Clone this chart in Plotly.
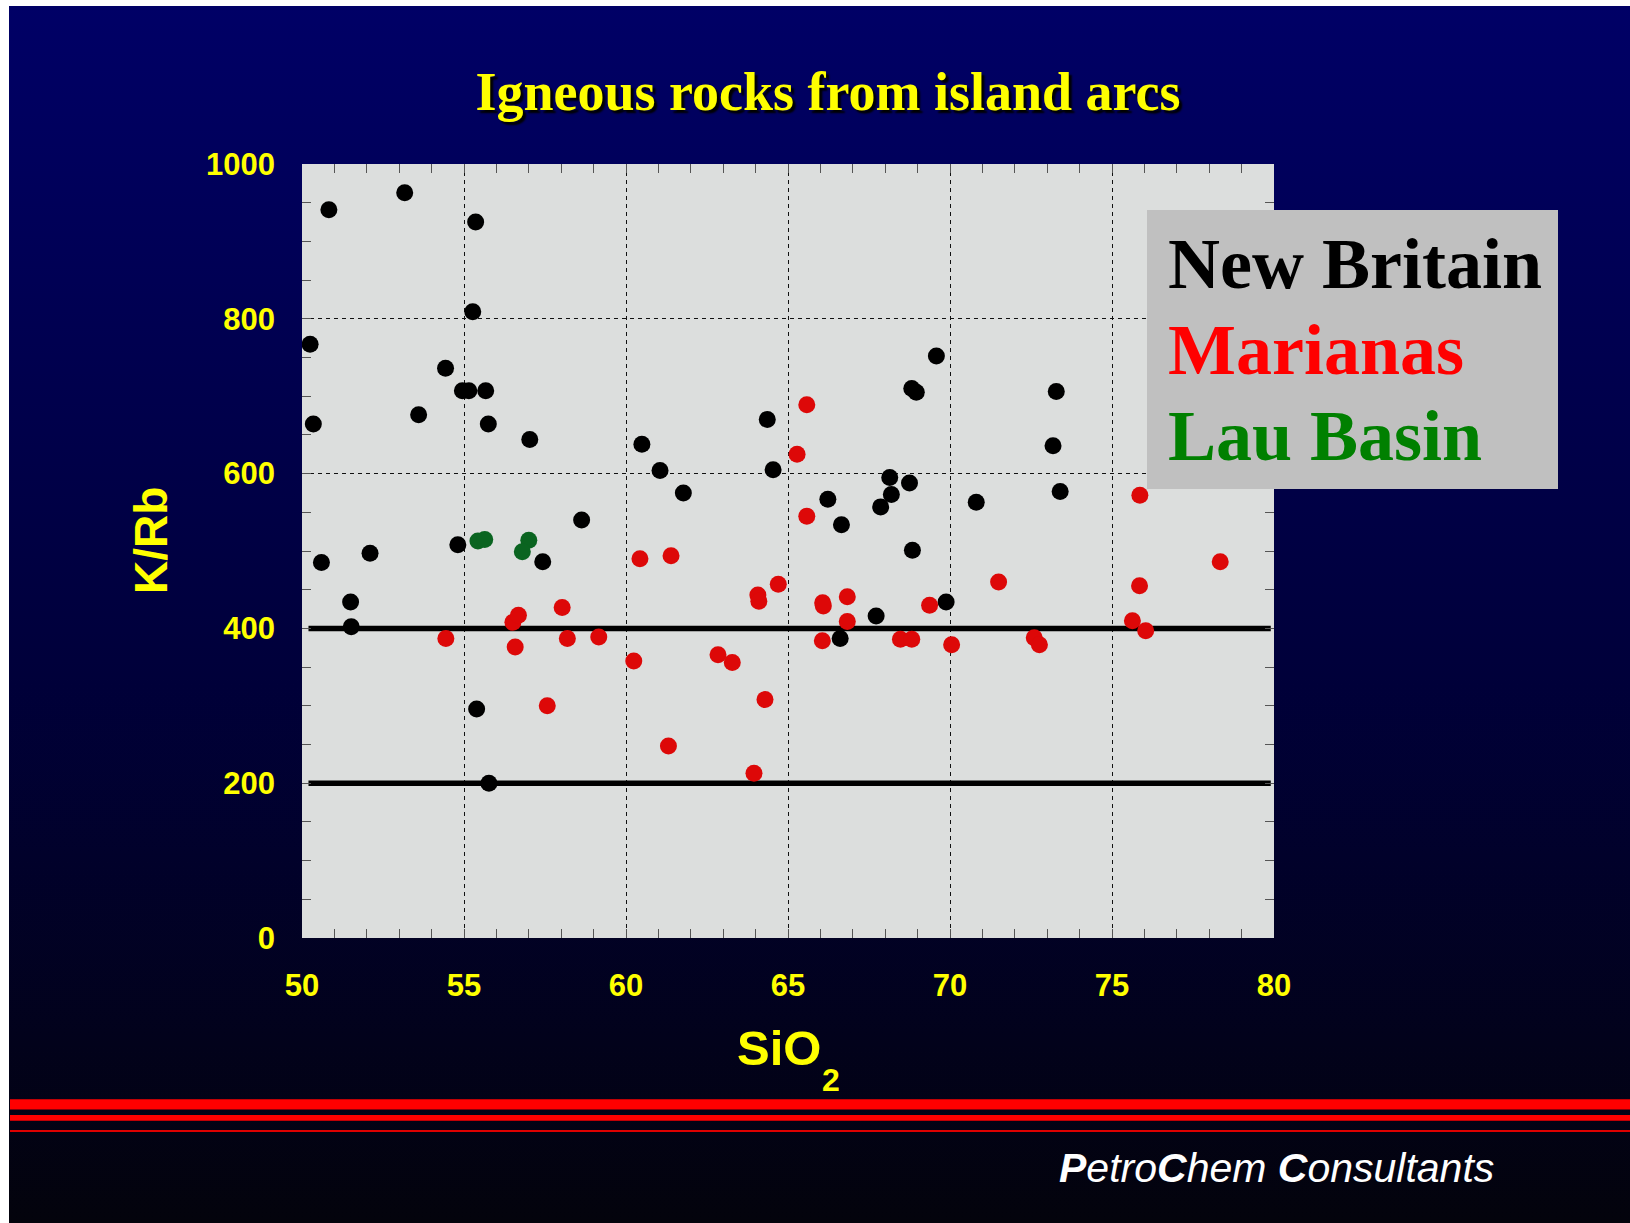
import base64
import plotly.graph_objects as go

# ---------------- data ----------------
series_names = ["New Britain", "Marianas", "Lau Basin"]
series_colors = ["#000000", "#dd0808", "#0a6420"]
legend_text_colors = ["#000000", "#ff0000", "#008000"]

nb_sio2 = [50.83, 53.17, 55.36, 55.27, 50.25, 54.43, 54.95, 55.15, 55.67, 53.60,
           50.35, 55.75, 57.03, 60.49, 61.05, 61.77, 58.63, 54.81, 50.60, 52.10,
           57.43, 51.50, 51.52, 64.36, 64.54, 55.39, 55.77, 69.58, 68.82, 68.96,
           73.28, 73.18, 68.14, 68.75, 68.19, 67.86, 70.81, 73.40, 66.23, 66.65,
           68.84, 69.88, 67.72, 66.61]
nb_krb = [941, 963, 925, 809, 767, 736, 707, 707, 707, 676,
          664, 664, 644, 638, 604, 575, 540, 508, 485, 497,
          486, 434, 402, 670, 605, 296, 200, 752, 710, 705,
          706, 636, 595, 588, 573, 557, 563, 577, 567, 534,
          501, 434, 416, 387]

ma_sio2 = [54.44, 56.51, 56.68, 56.58, 57.57, 58.03, 58.19, 59.16, 60.24, 60.43,
           61.39, 61.31, 62.84, 63.28, 63.95, 64.07, 64.10, 64.29, 64.70, 65.28,
           65.58, 65.58, 66.06, 66.07, 66.09, 66.83, 66.83, 68.47, 68.82, 69.37,
           70.05, 71.50, 72.60, 72.76, 75.63, 75.86, 75.85, 76.04, 78.34]
ma_krb = [387, 408, 417, 376, 300, 427, 387, 389, 358, 490,
          494, 248, 366, 356, 213, 443, 435, 308, 457, 625,
          689, 545, 384, 433, 429, 441, 409, 386, 386, 430,
          379, 460, 388, 379, 410, 572, 455, 397, 486]

lb_sio2 = [55.43, 55.64, 57.00, 56.80]
lb_krb = [513, 515, 514, 499]

ref_levels = [200, 400]
ref_line_x = [50.2, 79.9]

x_range = [50, 80]
y_range = [0, 1000]
x_ticks = [50, 55, 60, 65, 70, 75, 80]
y_ticks = [0, 200, 400, 600, 800, 1000]

title_text = "Igneous rocks from island arcs"
x_title_main = "SiO"
x_title_sub = "2"
y_title = "K/Rb"
footer_text = ("<b><i>P</i></b><i>etro</i><b><i>C</i></b><i>hem </i>"
               "<b><i>C</i></b><i>onsultants</i>")

# ---------------- layout geometry ----------------
OFF_X, OFF_Y = 9, 6          # page offset of the figure (white border strips)
W, H = 1630 - OFF_X, 1223 - OFF_Y
ML, MR, MT, MB = 293, 356, 158, 285
PW, PH = W - ML - MR, H - MT - MB


def px(page_x):
    return (page_x - OFF_X - ML) / PW


def py(page_y):
    return (MT + PH - (page_y - OFF_Y)) / PH


YELLOW = "#ffff00"
SANS = "Liberation Sans, Arial, sans-serif"
SERIF = "Liberation Serif, Times New Roman, serif"

fig = go.Figure()

# reference lines
for lvl in ref_levels:
    fig.add_trace(go.Scatter(x=ref_line_x, y=[lvl, lvl], mode="lines",
                             line=dict(color="#000000", width=5.5),
                             hoverinfo="skip", showlegend=False))

groups = [(nb_sio2, nb_krb), (ma_sio2, ma_krb), (lb_sio2, lb_krb)]
for (xs, ys), name, col in zip(groups, series_names, series_colors):
    fig.add_trace(go.Scatter(x=xs, y=ys, mode="markers", name=name,
                             marker=dict(color=col, size=17, line=dict(width=0)),
                             showlegend=False))

# gradient background image
svg = ('<svg xmlns="http://www.w3.org/2000/svg" width="100" height="100" '
       'viewBox="0 0 100 100" preserveAspectRatio="none">'
       '<defs><linearGradient id="g" x1="0" y1="0" x2="0" y2="1">'
       '<stop offset="0" stop-color="#000066"/>'
       '<stop offset="0.55" stop-color="#00003a"/>'
       '<stop offset="1" stop-color="#03030c"/>'
       '</linearGradient></defs>'
       '<rect x="0" y="0" width="100" height="100" fill="url(#g)"/></svg>')
svg_uri = "data:image/svg+xml;base64," + base64.b64encode(svg.encode()).decode()

images = [dict(source=svg_uri, xref="paper", yref="paper",
               x=px(OFF_X), y=py(OFF_Y), sizex=W / PW, sizey=H / PH,
               xanchor="left", yanchor="top", sizing="stretch", layer="below")]

shapes = [
    # plot area background
    dict(type="rect", xref="paper", yref="paper", x0=0, x1=1, y0=0, y1=1,
         fillcolor="#dcdedd", line=dict(width=0), layer="below"),
    # legend box
    dict(type="rect", xref="paper", yref="paper",
         x0=px(1147), x1=px(1558), y0=py(489), y1=py(210),
         fillcolor="#c0c0c0", line=dict(width=0), layer="above"),
    # red footer stripes
    dict(type="rect", xref="paper", yref="paper", x0=px(10), x1=px(1640),
         y0=py(1109.5), y1=py(1099.3), fillcolor="#ff0000", line=dict(width=0)),
    dict(type="rect", xref="paper", yref="paper", x0=px(10), x1=px(1640),
         y0=py(1120.7), y1=py(1115), fillcolor="#ff0000", line=dict(width=0)),
    dict(type="rect", xref="paper", yref="paper", x0=px(10), x1=px(1640),
         y0=py(1132), y1=py(1130), fillcolor="#dd0000", line=dict(width=0)),
]

annotations = []
legend_centers = [264, 350, 436]
for name, col, cy in zip(series_names, legend_text_colors, legend_centers):
    annotations.append(dict(text=name, xref="paper", yref="paper",
                            x=px(1166), y=py(cy), xanchor="left", yanchor="middle",
                            showarrow=False,
                            font=dict(family=SERIF, size=72, color=col, weight="bold")))

annotations.append(dict(text=y_title, xref="paper", yref="paper",
                        x=px(151), y=py(541), xanchor="center", yanchor="middle",
                        textangle=-90, showarrow=False,
                        font=dict(family=SANS, size=46, color=YELLOW, weight="bold")))
annotations.append(dict(text=x_title_main, xref="paper", yref="paper",
                        x=px(823), y=py(1048), xanchor="right", yanchor="middle",
                        showarrow=False,
                        font=dict(family=SANS, size=49, color=YELLOW, weight="bold")))
annotations.append(dict(text=x_title_sub, xref="paper", yref="paper",
                        x=px(820), y=py(1080), xanchor="left", yanchor="middle",
                        showarrow=False,
                        font=dict(family=SANS, size=32, color=YELLOW, weight="bold")))
annotations.append(dict(text=footer_text, xref="paper", yref="paper",
                        x=px(1057), y=py(1168), xanchor="left", yanchor="middle",
                        showarrow=False,
                        font=dict(family=SANS, size=41, color="#ffffff")))

tickfont = dict(family=SANS, size=31, color=YELLOW, weight="bold")

fig.update_layout(
    width=W, height=H,
    margin=dict(l=ML, r=MR, t=MT, b=MB, pad=0),
    paper_bgcolor="#000044",
    plot_bgcolor="#dcdedd",
    showlegend=False,
    title=dict(text=title_text, xref="container", yref="container",
               x=(828 - OFF_X) / W, y=1 - (91 - OFF_Y) / H,
               xanchor="center", yanchor="middle",
               font=dict(family=SERIF, size=54, color=YELLOW, weight="bold",
                         shadow="3px 3px 2px #000000")),
    xaxis=dict(range=x_range, tickvals=x_ticks, ticks="inside", ticklen=9,
               tickcolor="#555555", tickwidth=1, mirror="allticks",
               showline=False, zeroline=False, showgrid=True,
               gridcolor="#111111", gridwidth=1, griddash="4px,4px",
               tickfont=tickfont, ticklabelstandoff=26,
               minor=dict(dtick=1, ticks="inside", ticklen=9,
                          tickcolor="#555555", showgrid=False)),
    yaxis=dict(range=y_range, tickvals=y_ticks, ticks="inside", ticklen=9,
               tickcolor="#555555", tickwidth=1, mirror="allticks",
               showline=False, zeroline=False, showgrid=True,
               gridcolor="#111111", gridwidth=1, griddash="4px,4px",
               tickfont=tickfont, ticklabelstandoff=26,
               minor=dict(dtick=50, ticks="inside", ticklen=9,
                          tickcolor="#555555", showgrid=False)),
    images=images,
    shapes=shapes,
    annotations=annotations,
)

fig.write_html("out.html",
               post_script="document.body.style.margin='%dpx 0 0 %dpx';" % (OFF_Y, OFF_X))
